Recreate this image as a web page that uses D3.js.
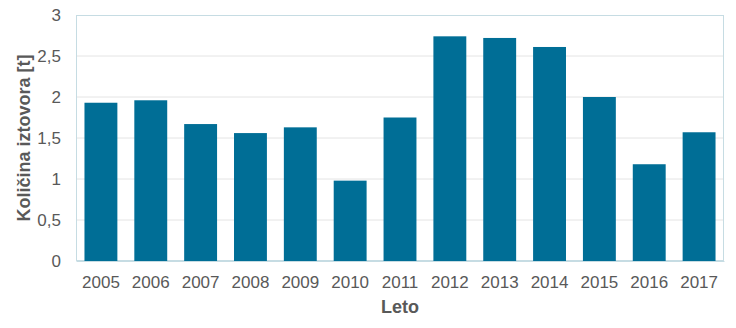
<!DOCTYPE html>
<html>
<head>
<meta charset="utf-8">
<script src="https://cdn.jsdelivr.net/npm/d3@7"></script>
<style>
  body { margin: 0; background: #fff; }
  text { font-family: "Liberation Sans", Arial, sans-serif; fill: #595959; }
</style>
</head>
<body>
<svg id="chart"></svg>
<script>
// size of the picture
var width = 736,
    height = 328;

var years = ["2005", "2006", "2007", "2008", "2009", "2010", "2011",
             "2012", "2013", "2014", "2015", "2016", "2017"];
var values = [1.93, 1.96, 1.67, 1.56, 1.63, 0.98, 1.75,
              2.74, 2.72, 2.61, 2.00, 1.18, 1.57];
var yTicks = [0, 0.5, 1, 1.5, 2, 2.5, 3];

var margin = {top: 15, right: 12, bottom: 67, left: 76};

var svg = d3.select("#chart")
    .attr("width", width)
    .attr("height", height);

var x = d3.scaleBand()
    .domain(years)
    .range([margin.left, width - margin.right])
    .paddingInner(0.34)
    .paddingOuter(0.17);

var y = d3.scaleLinear()
    .domain([0, 3])
    .range([height - margin.bottom, margin.top]);

var fmt = function(d) { return String(d).replace(".", ","); };

// gridlines
svg.append("g")
  .selectAll("line")
  .data(yTicks.slice(1, -1))
  .enter().append("line")
    .attr("x1", margin.left)
    .attr("x2", width - margin.right)
    .attr("y1", function(d) { return y(d); })
    .attr("y2", function(d) { return y(d); })
    .attr("stroke", "#e4e4e4")
    .attr("stroke-width", 1);

// plot frame
svg.append("rect")
    .attr("x", margin.left + 0.5)
    .attr("y", margin.top + 0.5)
    .attr("width", width - margin.left - margin.right - 1)
    .attr("height", height - margin.top - margin.bottom - 1)
    .attr("fill", "none")
    .attr("stroke", "#c6dce3");

// bars
svg.append("g")
  .selectAll("rect")
  .data(values)
  .enter().append("rect")
    .attr("x", function(d, i) { return x(years[i]); })
    .attr("y", function(d) { return y(d); })
    .attr("width", x.bandwidth())
    .attr("height", function(d) { return y(0) - y(d); })
    .attr("fill", "#006e96");

// y axis
var yAxis = svg.append("g")
    .attr("transform", "translate(" + margin.left + ",0)")
    .call(d3.axisLeft(y).tickValues(yTicks).tickFormat(fmt).tickSize(0).tickPadding(15));
yAxis.select(".domain").remove();
yAxis.selectAll("text")
    .style("font-size", "17px")
    .attr("fill", "#595959");

// x axis
var xAxis = svg.append("g")
    .attr("transform", "translate(0," + (height - margin.bottom) + ")")
    .call(d3.axisBottom(x).tickSize(0).tickPadding(15));
xAxis.select(".domain").attr("stroke", "#c6dce3");
xAxis.selectAll("text")
    .style("font-size", "17px")
    .attr("fill", "#595959");

// axis titles
svg.append("text")
    .attr("x", (margin.left + width - margin.right) / 2)
    .attr("y", 313)
    .attr("text-anchor", "middle")
    .style("font-size", "18px")
    .style("font-weight", "bold")
    .text("Leto");

svg.append("text")
    .attr("transform", "translate(30," + ((margin.top + height - margin.bottom) / 2) + ") rotate(-90)")
    .attr("text-anchor", "middle")
    .style("font-size", "18px")
    .style("font-weight", "bold")
    .text("Količina iztovora [t]");
</script>
</body>
</html>
